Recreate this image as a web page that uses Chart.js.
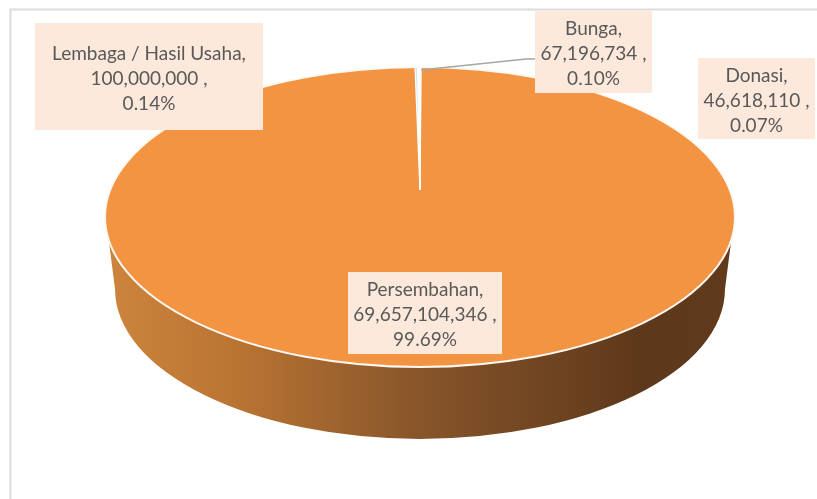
<!DOCTYPE html>
<html>
<head>
<meta charset="utf-8">
<title>Pie</title>
<script src="https://cdn.jsdelivr.net/npm/chart.js@4/dist/chart.umd.min.js"></script>
<style>
  html, body { margin: 0; padding: 0; background: #fff; overflow: hidden; }
  canvas { display: block; }
</style>
</head>
<body>
<canvas id="myChart" width="817" height="499"></canvas>
<script>
const categories = ["Persembahan", "Lembaga / Hasil Usaha", "Bunga", "Donasi"];
const amounts = [69657104346, 100000000, 67196734, 46618110];
const percents = ["99.69%", "0.14%", "0.10%", "0.07%"];
const sliceColors = ["#f39443", "#cfe6ee", "#ffffff", "#ffffff"];
const sliceBorders = [0, 1, 1, 1];

// top face ellipse, the thin slices meet further back than its middle (perspective)
const top3d = { x: 420, y: 217, rx: 315, ry: 150, apexY: 190 };
const bottom3d = { x: 420, y: 289, rx: 305, ry: 150 };
const sideStartY = 240;

const boxes = [
  { l: 348, t: 272, r: 502, b: 354 },
  { l: 35, t: 23, r: 263, b: 130 },
  { l: 535, t: 11, r: 652, b: 93 },
  { l: 698, t: 58, r: 815, b: 139 }
];

function drawSide(ctx) {
  const grad = ctx.createLinearGradient(105, 0, 735, 0);
  grad.addColorStop(0, "#cd853c");
  grad.addColorStop(0.2, "#bb7533");
  grad.addColorStop(0.5, "#87552a");
  grad.addColorStop(0.85, "#5e381a");
  grad.addColorStop(1, "#603a1b");

  const dy = (sideStartY - top3d.y) / top3d.ry;
  const dx = top3d.rx * Math.sqrt(1 - dy * dy);
  ctx.beginPath();
  ctx.moveTo(top3d.x - dx, sideStartY);
  ctx.lineTo(bottom3d.x - bottom3d.rx, bottom3d.y);
  ctx.ellipse(bottom3d.x, bottom3d.y, bottom3d.rx, bottom3d.ry, 0, Math.PI, 0, true);
  ctx.lineTo(top3d.x + dx, sideStartY);
  ctx.closePath();
  ctx.fillStyle = grad;
  ctx.fill();
}

const pie3d = {
  id: "pie3d",
  beforeDraw(chart) {
    // chart frame, only top and left are in the picture
    const ctx = chart.ctx;
    ctx.save();
    ctx.strokeStyle = "#dcdcdc";
    ctx.lineWidth = 2;
    ctx.beginPath();
    ctx.moveTo(10.5, 499);
    ctx.lineTo(10.5, 9.5);
    ctx.lineTo(817, 9.5);
    ctx.stroke();
    ctx.restore();
  },
  beforeDatasetsDraw(chart) {
    const ctx = chart.ctx;
    drawSide(ctx);

    ctx.save();
    ctx.beginPath();
    ctx.ellipse(top3d.x, top3d.y, top3d.rx, top3d.ry, 0, 0, Math.PI * 2);
    ctx.fillStyle = sliceColors[0];
    ctx.fill();
    ctx.restore();

    chart.getDatasetMeta(0).data.forEach((arc, i) => {
      const R = arc.outerRadius;
      const cy = i === 0 ? top3d.y : top3d.apexY;
      const ry = i === 0 ? top3d.ry : top3d.y - top3d.ry - top3d.apexY;
      ctx.save();
      ctx.translate(top3d.x, cy);
      ctx.scale(top3d.rx / R, Math.abs(ry) / R);
      ctx.translate(-arc.x, -arc.y);
      arc.draw(ctx);
      ctx.restore();
    });

    ctx.save();
    ctx.beginPath();
    ctx.ellipse(top3d.x, top3d.y, top3d.rx, top3d.ry, 0, 0, Math.PI * 2);
    ctx.strokeStyle = "#fdf8f2";
    ctx.lineWidth = 2;
    ctx.stroke();
    ctx.restore();
    return false;
  },
  afterDraw(chart) {
    const ctx = chart.ctx;
    ctx.save();

    // leader line for Bunga
    ctx.strokeStyle = "#a6a6a6";
    ctx.lineWidth = 1.5;
    ctx.beginPath();
    ctx.moveTo(421, 70);
    ctx.lineTo(526, 59);
    ctx.lineTo(535, 59);
    ctx.stroke();

    ctx.font = "19px Lato";
    ctx.textAlign = "center";
    ctx.textBaseline = "middle";
    categories.forEach((name, i) => {
      const b = boxes[i];
      ctx.fillStyle = "#fde9db";
      ctx.fillRect(b.l, b.t, b.r - b.l, b.b - b.t);
      ctx.fillStyle = "#595959";
      const cx = (b.l + b.r) / 2;
      const cy = (b.t + b.b) / 2 + 2;
      ctx.fillText(name + ",", cx, cy - 25);
      ctx.fillText(amounts[i].toLocaleString("en-US") + " ,", cx, cy);
      ctx.fillText(percents[i], cx, cy + 25);
    });
    ctx.restore();
  }
};

const ctx = document.getElementById("myChart").getContext("2d");
const myChart = new Chart(ctx, {
  type: "pie",
  data: {
    labels: categories,
    datasets: [
      {
        data: amounts,
        backgroundColor: sliceColors,
        borderColor: "#ffffff",
        borderWidth: sliceBorders
      }
    ]
  },
  options: {
    responsive: false,
    animation: false,
    rotation: 0.2,
    plugins: {
      legend: { display: false },
      tooltip: { enabled: false }
    }
  },
  plugins: [pie3d]
});
</script>
</body>
</html>
